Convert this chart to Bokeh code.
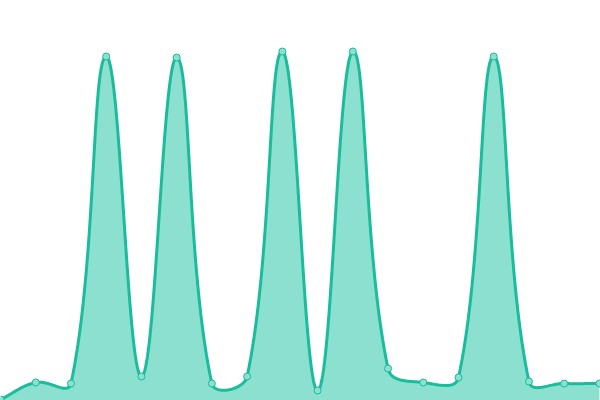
import numpy as np
from bokeh.plotting import figure
from bokeh.models import Range1d
from bokeh.embed import file_html
from bokeh.resources import INLINE

# Data
labels = list(range(18))
values = [1, 18, 17, 344, 24, 343, 17, 24, 349, 10, 349, 32, 18, 23, 344, 19, 17, 17]

W, H = 600, 400
X_MAX = 17.03
Y_MAX = 400
LINE = "#1abc9c"
FILL = "#8be0cf"
TENSION = 0.4

p = figure(width=W, height=H, x_range=Range1d(0, X_MAX), y_range=Range1d(0, Y_MAX),
           output_backend="svg", toolbar_location=None, min_border=0)
p.axis.visible = False
p.grid.visible = False
p.outline_line_color = None

# smooth (Chart.js-like tension spline) rendering of the series, in screen space
sx, sy = W / X_MAX, H / Y_MAX
pts = np.column_stack([np.array(labels, float) * sx, np.array(values, float) * sy])
n = len(pts)
prev_cp = np.zeros_like(pts)
next_cp = np.zeros_like(pts)
for i in range(n):
    a = pts[i - 1] if i > 0 else pts[i]
    m = pts[i]
    b = pts[i + 1] if i < n - 1 else pts[i]
    d01 = np.hypot(*(m - a))
    d12 = np.hypot(*(b - m))
    tot = d01 + d12
    s01 = d01 / tot if tot else 0
    s12 = d12 / tot if tot else 0
    prev_cp[i] = m - TENSION * s01 * (b - a)
    next_cp[i] = m + TENSION * s12 * (b - a)
for arr in (prev_cp, next_cp):
    arr[:, 0] = np.clip(arr[:, 0], 0, W)
    arr[:, 1] = np.clip(arr[:, 1], 0, H)

xs, ys = [], []
t = np.linspace(0, 1, 40)[:, None]
for i in range(n - 1):
    P0, C1, C2, P1 = pts[i], next_cp[i], prev_cp[i + 1], pts[i + 1]
    seg = ((1 - t) ** 3) * P0 + 3 * ((1 - t) ** 2) * t * C1 + 3 * (1 - t) * t ** 2 * C2 + t ** 3 * P1
    if i > 0:
        seg = seg[1:]
    xs.extend(seg[:, 0] / sx)
    ys.extend(seg[:, 1] / sy)

p.varea(x=xs, y1=0, y2=ys, fill_color=FILL, fill_alpha=1.0)
p.line(xs, ys, line_color=LINE, line_width=3)
p.scatter(labels, values, size=7, fill_color=FILL, line_color=LINE, line_width=1)

html = file_html(p, INLINE)
html = html.replace("</head>", "<style>html,body{margin:0;padding:0;overflow:hidden}</style></head>", 1)
open("out.html", "w").write(html)
